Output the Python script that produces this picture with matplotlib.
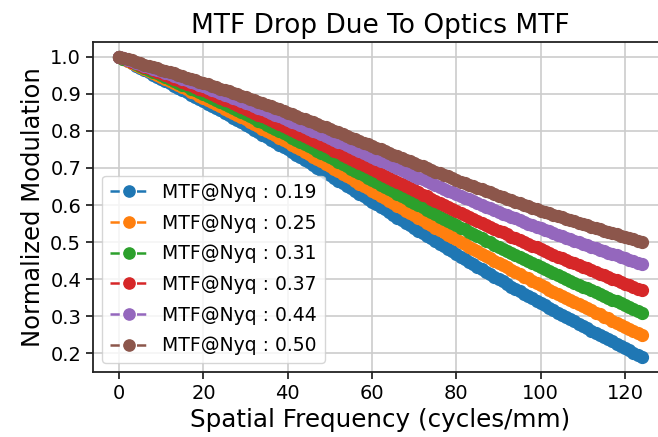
import matplotlib
matplotlib.use("Agg")
import matplotlib.pyplot as plt

# spatial frequency samples (cycles/mm)
freq = list(range(0, 125))

labels = ["MTF@Nyq : 0.19", "MTF@Nyq : 0.25", "MTF@Nyq : 0.31",
          "MTF@Nyq : 0.37", "MTF@Nyq : 0.44", "MTF@Nyq : 0.50"]

mtf_019 = [1.000, .994, .988, .982, .976, .970, .964, .958, .952, .946,
           .940, .934, .928, .922, .916, .910, .904, .898, .892, .886,
           .880, .873, .867, .861, .855, .848, .842, .835, .829, .823,
           .816, .810, .803, .796, .790, .783, .776, .770, .763, .756,
           .750, .743, .736, .729, .722, .715, .708, .701, .694, .687,
           .680, .673, .666, .659, .652, .645, .638, .631, .624, .616,
           .609, .602, .595, .588, .581, .574, .566, .559, .552, .545,
           .538, .531, .524, .517, .510, .503, .496, .489, .482, .475,
           .468, .461, .454, .447, .440, .434, .427, .420, .414, .407,
           .400, .394, .387, .380, .374, .367, .361, .355, .348, .342,
           .335, .329, .323, .317, .310, .304, .298, .292, .286, .280,
           .274, .268, .261, .255, .250, .244, .238, .232, .226, .220,
           .214, .208, .202, .196, .190]
mtf_025 = [1.000, .995, .989, .984, .978, .973, .967, .962, .956, .951,
           .945, .940, .934, .929, .923, .918, .912, .906, .901, .895,
           .889, .883, .878, .872, .866, .860, .854, .848, .843, .837,
           .831, .824, .818, .812, .806, .800, .794, .788, .781, .775,
           .769, .763, .756, .750, .743, .737, .730, .724, .718, .711,
           .704, .698, .691, .685, .678, .672, .665, .658, .652, .645,
           .638, .632, .625, .618, .612, .605, .598, .592, .585, .578,
           .572, .565, .559, .552, .546, .539, .533, .526, .520, .513,
           .507, .500, .494, .487, .481, .475, .469, .462, .456, .450,
           .444, .438, .432, .425, .419, .413, .407, .402, .396, .390,
           .384, .378, .372, .366, .361, .355, .349, .344, .338, .332,
           .327, .321, .316, .310, .305, .299, .294, .288, .283, .277,
           .272, .266, .261, .255, .250]
mtf_031 = [1.000, .995, .990, .985, .980, .975, .970, .965, .960, .955,
           .950, .945, .940, .935, .930, .925, .920, .914, .909, .904,
           .899, .894, .888, .883, .878, .872, .867, .862, .856, .851,
           .845, .840, .834, .828, .823, .817, .811, .806, .800, .794,
           .788, .782, .776, .771, .765, .759, .753, .747, .741, .735,
           .729, .723, .716, .710, .704, .698, .692, .686, .680, .674,
           .667, .661, .655, .649, .643, .637, .630, .624, .618, .612,
           .606, .600, .594, .587, .581, .575, .569, .563, .557, .551,
           .545, .539, .534, .528, .522, .516, .510, .504, .499, .493,
           .487, .482, .476, .471, .465, .459, .454, .448, .443, .438,
           .432, .427, .422, .416, .411, .406, .401, .396, .390, .385,
           .380, .375, .370, .365, .360, .355, .350, .345, .340, .335,
           .330, .325, .320, .315, .310]
mtf_037 = [1.000, .996, .991, .987, .982, .978, .973, .969, .964, .960,
           .955, .950, .946, .941, .937, .932, .927, .923, .918, .913,
           .909, .904, .899, .894, .889, .884, .880, .875, .870, .865,
           .860, .854, .849, .844, .839, .834, .829, .823, .818, .813,
           .808, .802, .797, .791, .786, .781, .775, .769, .764, .758,
           .753, .747, .742, .736, .730, .725, .719, .713, .708, .702,
           .696, .691, .685, .679, .674, .668, .662, .657, .651, .645,
           .640, .634, .628, .623, .617, .612, .606, .601, .595, .590,
           .584, .579, .573, .568, .562, .557, .552, .547, .541, .536,
           .531, .526, .521, .515, .510, .505, .500, .495, .490, .486,
           .481, .476, .471, .466, .461, .457, .452, .447, .443, .438,
           .433, .429, .424, .420, .415, .410, .406, .401, .397, .392,
           .388, .383, .379, .374, .370]
mtf_044 = [1.000, .996, .992, .988, .984, .980, .976, .972, .968, .965,
           .961, .957, .953, .949, .945, .941, .936, .932, .928, .924,
           .920, .916, .911, .907, .903, .898, .894, .890, .885, .881,
           .876, .872, .867, .863, .858, .854, .849, .844, .840, .835,
           .830, .825, .820, .816, .811, .806, .801, .796, .791, .786,
           .781, .776, .771, .766, .761, .756, .751, .746, .740, .735,
           .730, .725, .720, .715, .710, .705, .700, .694, .689, .684,
           .679, .674, .669, .664, .659, .654, .649, .644, .639, .634,
           .629, .624, .620, .615, .610, .605, .600, .596, .591, .586,
           .582, .577, .572, .568, .564, .559, .555, .550, .546, .541,
           .537, .533, .529, .524, .520, .516, .512, .508, .504, .499,
           .495, .491, .487, .483, .479, .475, .471, .467, .464, .460,
           .456, .452, .448, .444, .440]
mtf_050 = [1.000, .997, .993, .990, .986, .983, .979, .976, .972, .969,
           .965, .962, .958, .955, .951, .948, .944, .940, .937, .933,
           .930, .926, .922, .918, .914, .911, .907, .903, .899, .895,
           .891, .887, .883, .879, .875, .871, .866, .862, .858, .854,
           .849, .845, .841, .836, .832, .828, .823, .819, .814, .810,
           .805, .801, .796, .791, .787, .782, .778, .773, .768, .764,
           .759, .755, .750, .745, .741, .736, .731, .727, .722, .718,
           .713, .708, .704, .699, .695, .690, .686, .681, .677, .672,
           .668, .663, .659, .655, .650, .646, .642, .638, .634, .629,
           .625, .621, .617, .613, .609, .605, .601, .597, .593, .589,
           .585, .582, .578, .574, .570, .567, .563, .559, .556, .552,
           .549, .545, .541, .538, .534, .531, .528, .524, .521, .517,
           .514, .510, .507, .503, .500]

series = [mtf_019, mtf_025, mtf_031, mtf_037, mtf_044, mtf_050]

fig = plt.figure(figsize=(6.58, 4.37), dpi=100)
ax = fig.add_axes([0.1413, 0.1487, 0.874, 0.7558])

for vals, lab in zip(series, labels):
    ax.plot(freq[:len(vals)], vals, marker='o', linestyle='--', markersize=8.5,
            linewidth=1.8, label=lab)

ax.grid(True, color='#cccccc', linewidth=1.2)
ax.set_axisbelow(True)
ax.set_title('MTF Drop Due To Optics MTF', fontsize=19)
ax.set_xlabel('Spatial Frequency (cycles/mm)', fontsize=17.7)
ax.set_ylabel('Normalized Modulation', fontsize=17.5)
ax.tick_params(labelsize=14, length=5, width=1.1)
for sp in ax.spines.values():
    sp.set_linewidth(1.3)
    sp.set_color('#222222')
ax.set_yticks([0.2, 0.3, 0.4, 0.5, 0.6, 0.7, 0.8, 0.9, 1.0])
ax.legend(loc='lower left', fontsize=13.5, labelspacing=0.62, markerscale=0.95)

fig.savefig("out.png", dpi=100)
